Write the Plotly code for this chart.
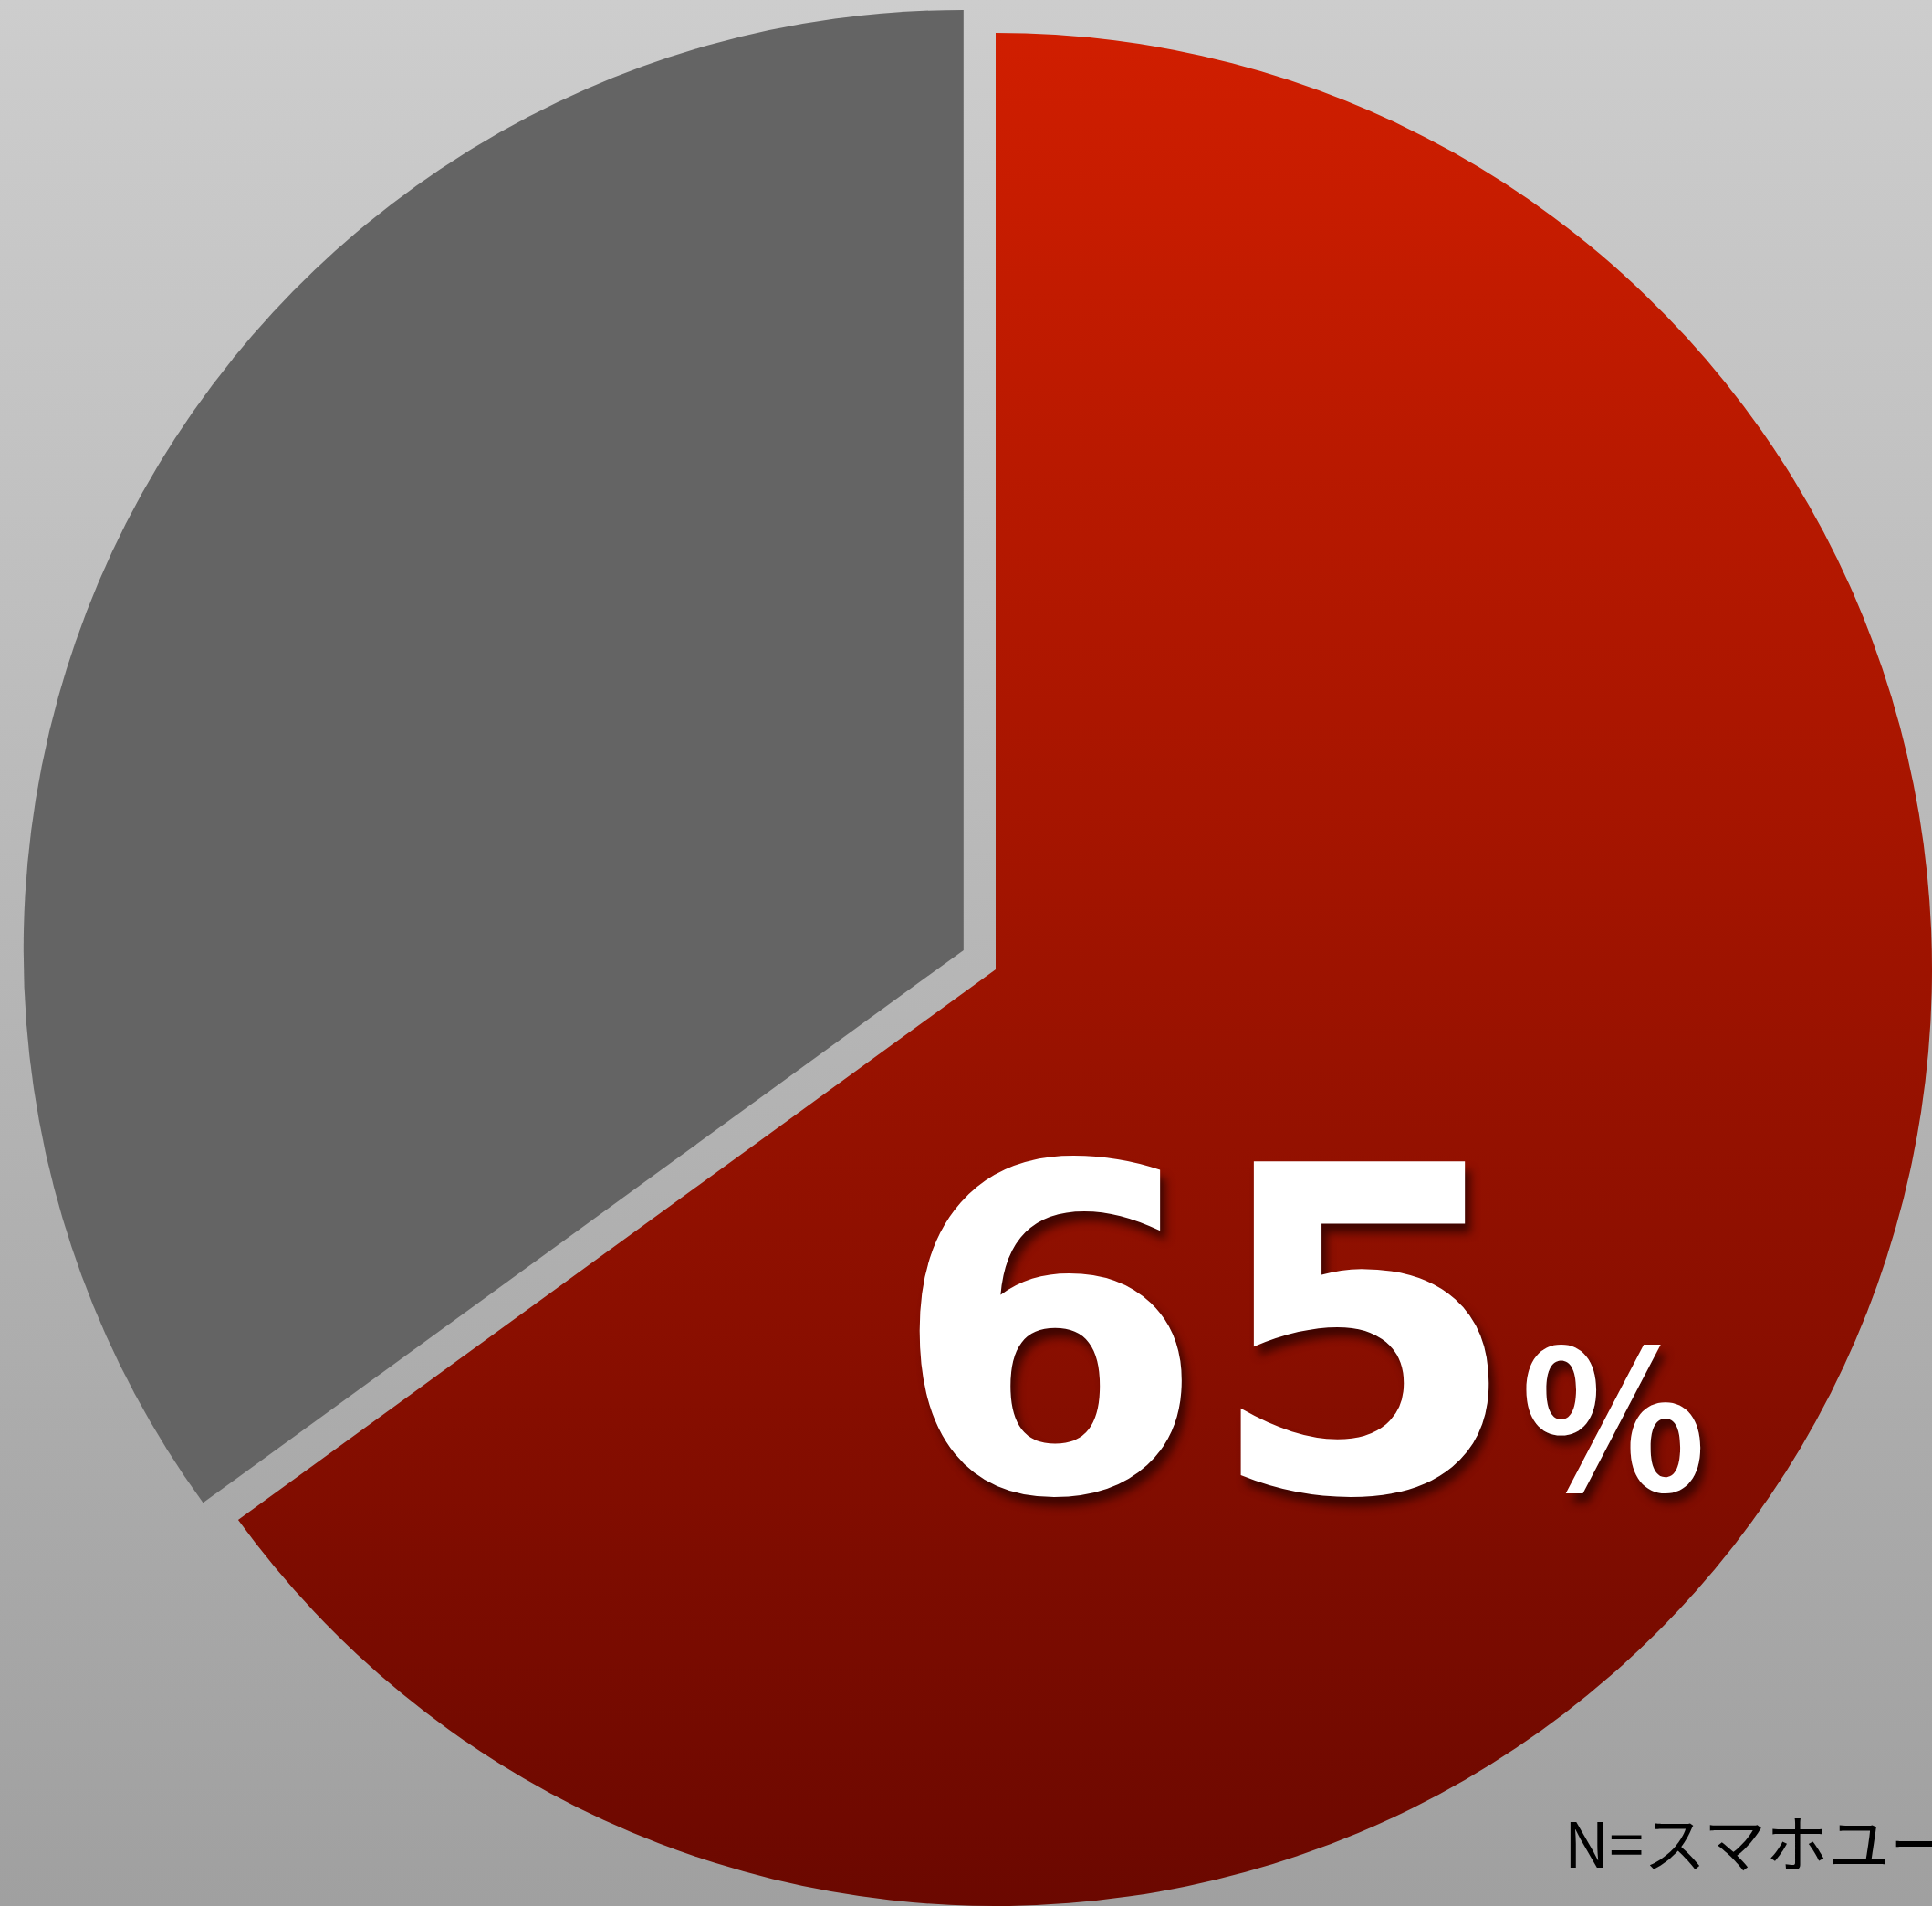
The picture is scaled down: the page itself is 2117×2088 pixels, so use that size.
import base64
import plotly.graph_objects as go

# ---- data ----
labels = ["該当", "非該当"]
values = [65, 35]
slice_colors = ["#9c1200", "#646464"]
note_text = "N=スマホユーザー"

W, H = 2117, 2088

# geometry (pixels) of each exploded slice
red_cx, red_cy, red_r = 1091.0, 1062.0, 1026.0
grey_cx, grey_cy, grey_r = 1055.8, 1040.9, 1030.0


def px_x(v):
    return v / W


def px_y(v):
    return 1 - v / H


red_dom_x = [px_x(red_cx - red_r), 1.0]
red_dom_y = [0.0, px_y(red_cy - (H - red_cy))]
grey_dom_x = [px_x(grey_cx - grey_r), px_x(grey_cx + grey_r)]
grey_dom_y = [px_y(grey_cy + grey_r), px_y(grey_cy - grey_r)]

fig = go.Figure()

fig.add_trace(go.Pie(
    labels=labels, values=values, sort=False, direction="clockwise", rotation=0,
    marker=dict(colors=[slice_colors[0], "rgba(0,0,0,0)"], line=dict(width=0)),
    textinfo="none", hoverinfo="skip", showlegend=False,
    domain=dict(x=red_dom_x, y=red_dom_y),
))
fig.add_trace(go.Pie(
    labels=labels, values=values, sort=False, direction="clockwise", rotation=0,
    marker=dict(colors=["rgba(0,0,0,0)", slice_colors[1]], line=dict(width=0)),
    textinfo="none", hoverinfo="skip", showlegend=False,
    domain=dict(x=grey_dom_x, y=grey_dom_y),
))

bg_svg = (
    '<svg xmlns="http://www.w3.org/2000/svg" width="100" height="100" viewBox="0 0 100 100" '
    'preserveAspectRatio="none"><defs><linearGradient id="g" x1="0" y1="0" x2="0" y2="1">'
    '<stop offset="0" stop-color="#cdcdcd"/><stop offset="1" stop-color="#a0a0a0"/>'
    '</linearGradient></defs><rect width="100" height="100" fill="url(#g)"/></svg>'
)
bg_src = "data:image/svg+xml;base64," + base64.b64encode(bg_svg.encode()).decode()

shadow = "6px 10px 10px rgba(55,4,0,0.9)"
big_label = (
    f"{values[0]}"
    "<span style=\"font-family:'Noto Sans CJK JP';font-size:212px\">%</span>"
)
annotations = [
    dict(
        text=big_label, x=px_x(975), y=px_y(1462), xref="paper", yref="paper",
        xanchor="left", yanchor="middle", showarrow=False,
        font=dict(family="DejaVu Sans", size=495, color="white", weight="bold", shadow=shadow),
    ),
    dict(
        text=note_text, x=px_x(1712), y=px_y(2016), xref="paper", yref="paper",
        xanchor="left", yanchor="middle", showarrow=False,
        font=dict(family="Noto Sans CJK JP", size=68, color="black"),
    ),
]

fig.update_layout(
    width=W, height=H, margin=dict(l=0, r=0, t=0, b=0),
    paper_bgcolor="#b6b6b6", plot_bgcolor="rgba(0,0,0,0)",
    images=[dict(source=bg_src, xref="paper", yref="paper", x=0, y=1, sizex=1, sizey=1,
                 sizing="stretch", xanchor="left", yanchor="top", layer="below")],
    annotations=annotations,
    showlegend=False,
)

post = """
document.body.style.margin = '0';
document.body.style.overflow = 'hidden';
var gd = document.getElementById('{plot_id}');
var svg = gd.querySelector('svg.main-svg');
var defs = svg.querySelector('defs');
var ns = 'http://www.w3.org/2000/svg';
var lg = document.createElementNS(ns, 'linearGradient');
lg.setAttribute('id', 'redgrad');
lg.setAttribute('x1', '0'); lg.setAttribute('y1', '0');
lg.setAttribute('x2', '0'); lg.setAttribute('y2', '1');
[['0', '#d01e00'], ['1', '#6b0800']].forEach(function(s) {
  var st = document.createElementNS(ns, 'stop');
  st.setAttribute('offset', s[0]); st.setAttribute('stop-color', s[1]);
  lg.appendChild(st);
});
defs.appendChild(lg);
var tr = gd.querySelectorAll('.pielayer .trace')[0];
if (tr) {
  var p = tr.querySelectorAll('path.surface')[0];
  if (p) { p.style.fill = 'url(#redgrad)'; }
}
"""

fig.write_html("out.html", post_script=post, config={"displayModeBar": False})
